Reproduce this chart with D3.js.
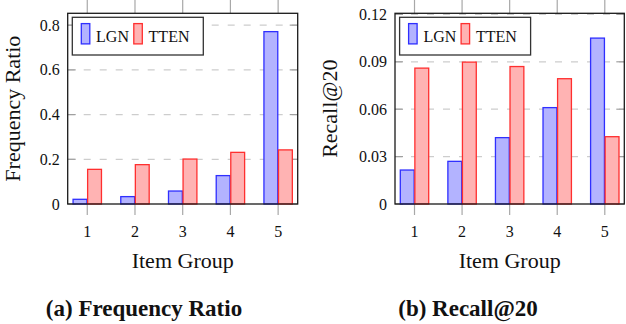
<!DOCTYPE html>
<html>
<head>
<meta charset="utf-8">
<script src="https://cdn.jsdelivr.net/npm/d3@7"></script>
<style>
  body { margin: 0; background: #fff; }
  text { font-family: "Liberation Serif", "DejaVu Serif", serif; fill: #111; }
</style>
</head>
<body>
<script>
const w = 626
const h = 324

// data
const groups = [1, 2, 3, 4, 5]
const seriesNames = ["LGN", "TTEN"]
const freqLGN = [0.021, 0.033, 0.058, 0.127, 0.771]
const freqTTEN = [0.155, 0.176, 0.201, 0.231, 0.242]
const recallLGN = [0.0215, 0.027, 0.042, 0.061, 0.105]
const recallTTEN = [0.086, 0.0898, 0.087, 0.0793, 0.0426]
const freqTicks = [0, 0.2, 0.4, 0.6, 0.8]
const freqTickLabels = ["0", "0.2", "0.4", "0.6", "0.8"]
const recallTicks = [0, 0.03, 0.06, 0.09, 0.12]
const recallTickLabels = ["0", "0.03", "0.06", "0.09", "0.12"]

const colors = {
  LGN: {fill: "#b3b3ff", stroke: "#2f2fff"},
  TTEN: {fill: "#ffb3b3", stroke: "#ff2f2f"}
}

const svg = d3.select("body").append("svg")
  .attr("width", w).attr("height", h)

function panel(opt) {
  const g = svg.append("g")
  const x = d3.scaleLinear().domain([0.59, 5.41]).range([opt.left, opt.right])
  const y = d3.scaleLinear().domain([0, opt.yMax]).range([opt.bottom, opt.top])
  const sub = d3.scaleBand().domain(seriesNames).range([-14.2, 14.2]).paddingInner(0.05)

  // grid
  g.selectAll(".grid").data(opt.ticks.slice(1)).enter().append("line")
    .attr("x1", opt.left).attr("x2", opt.right)
    .attr("y1", d => y(d)).attr("y2", d => y(d))
    .attr("stroke", "#cdcdcd").attr("stroke-width", 1.3)
    .attr("stroke-dasharray", "7,9")
  // y tick marks inside, left and right
  g.selectAll(".ytl").data(opt.ticks).enter().append("line")
    .attr("x1", opt.left).attr("x2", opt.left + 8)
    .attr("y1", d => y(d)).attr("y2", d => y(d))
    .attr("stroke", "#a0a0a0").attr("stroke-width", 1.2)
  g.selectAll(".ytr").data(opt.ticks).enter().append("line")
    .attr("x1", opt.right - 8).attr("x2", opt.right)
    .attr("y1", d => y(d)).attr("y2", d => y(d))
    .attr("stroke", "#a0a0a0").attr("stroke-width", 1.2)
  // x tick marks outside, top and bottom
  g.selectAll(".xtb").data(groups).enter().append("line")
    .attr("x1", d => x(d)).attr("x2", d => x(d))
    .attr("y1", opt.bottom).attr("y2", opt.bottom + 11)
    .attr("stroke", "#a8a8a8").attr("stroke-width", 1.2)
  g.selectAll(".xtt").data(groups).enter().append("line")
    .attr("x1", d => x(d)).attr("x2", d => x(d))
    .attr("y1", opt.top - 14).attr("y2", opt.top)
    .attr("stroke", "#a8a8a8").attr("stroke-width", 1.2)

  // bars
  seriesNames.forEach((name, si) => {
    const vals = opt.values[si]
    g.selectAll(".bar-" + name).data(vals).enter().append("rect")
      .attr("x", (d, i) => x(groups[i]) + sub(name))
      .attr("width", sub.bandwidth())
      .attr("y", d => y(d))
      .attr("height", d => y(0) - y(d))
      .attr("fill", colors[name].fill)
      .attr("stroke", colors[name].stroke)
      .attr("stroke-width", 1.3)
  })

  // frame
  g.append("rect")
    .attr("x", opt.left).attr("y", opt.top)
    .attr("width", opt.right - opt.left).attr("height", opt.bottom - opt.top)
    .attr("fill", "none").attr("stroke", "#1a1a1a").attr("stroke-width", 1.3)

  // tick labels
  g.selectAll(".xl").data(groups).enter().append("text")
    .attr("x", d => x(d)).attr("y", 236.5)
    .attr("text-anchor", "middle").attr("font-size", "16px")
    .text(d => d)
  g.selectAll(".yl").data(opt.ticks).enter().append("text")
    .attr("x", opt.left - 8).attr("y", d => y(d))
    .attr("dy", ".35em")
    .attr("text-anchor", "end").attr("font-size", "16px")
    .text((d, i) => opt.tickLabels[i])

  // axis titles
  g.append("text")
    .attr("x", (opt.left + opt.right) / 2).attr("y", 267.7)
    .attr("text-anchor", "middle").attr("font-size", "22px")
    .text("Item Group")
  g.append("text")
    .attr("transform", `translate(${opt.ytitleX},${(opt.top + opt.bottom) / 2}) rotate(-90)`)
    .attr("text-anchor", "middle").attr("font-size", "22px")
    .text(opt.ytitle)

  // caption
  g.append("text")
    .attr("x", opt.captionX).attr("y", 315.7)
    .attr("text-anchor", "middle").attr("font-size", "23px")
    .attr("font-weight", "bold")
    .text(opt.caption)

  // legend
  const lx = opt.left + 4.6
  const ly = opt.top + 4
  const lg = g.append("g").attr("transform", `translate(${lx},${ly})`)
  lg.append("rect")
    .attr("width", 131).attr("height", 37.7)
    .attr("fill", "#fff").attr("stroke", "#333").attr("stroke-width", 1.3)
  const lgx = [9, 61.5]
  seriesNames.forEach((name, i) => {
    lg.append("rect")
      .attr("x", lgx[i]).attr("y", 6.3)
      .attr("width", 8.5).attr("height", 20.3)
      .attr("fill", colors[name].fill)
      .attr("stroke", colors[name].stroke)
      .attr("stroke-width", 1.3)
    lg.append("text")
      .attr("x", lgx[i] + 14.8).attr("y", 24.4)
      .attr("font-size", "16px")
      .text(name)
  })
}

panel({
  left: 67.7, right: 297.7, top: 13.3, bottom: 204,
  yMax: 0.853, ticks: freqTicks, tickLabels: freqTickLabels,
  values: [freqLGN, freqTTEN],
  ytitle: "Frequency Ratio", ytitleX: 20,
  caption: "(a) Frequency Ratio", captionX: 144
})

panel({
  left: 395, right: 624.3, top: 13.3, bottom: 204,
  yMax: 0.1207, ticks: recallTicks, tickLabels: recallTickLabels,
  values: [recallLGN, recallTTEN],
  ytitle: "Recall@20", ytitleX: 336.5,
  caption: "(b) Recall@20", captionX: 468
})
</script>
</body>
</html>
